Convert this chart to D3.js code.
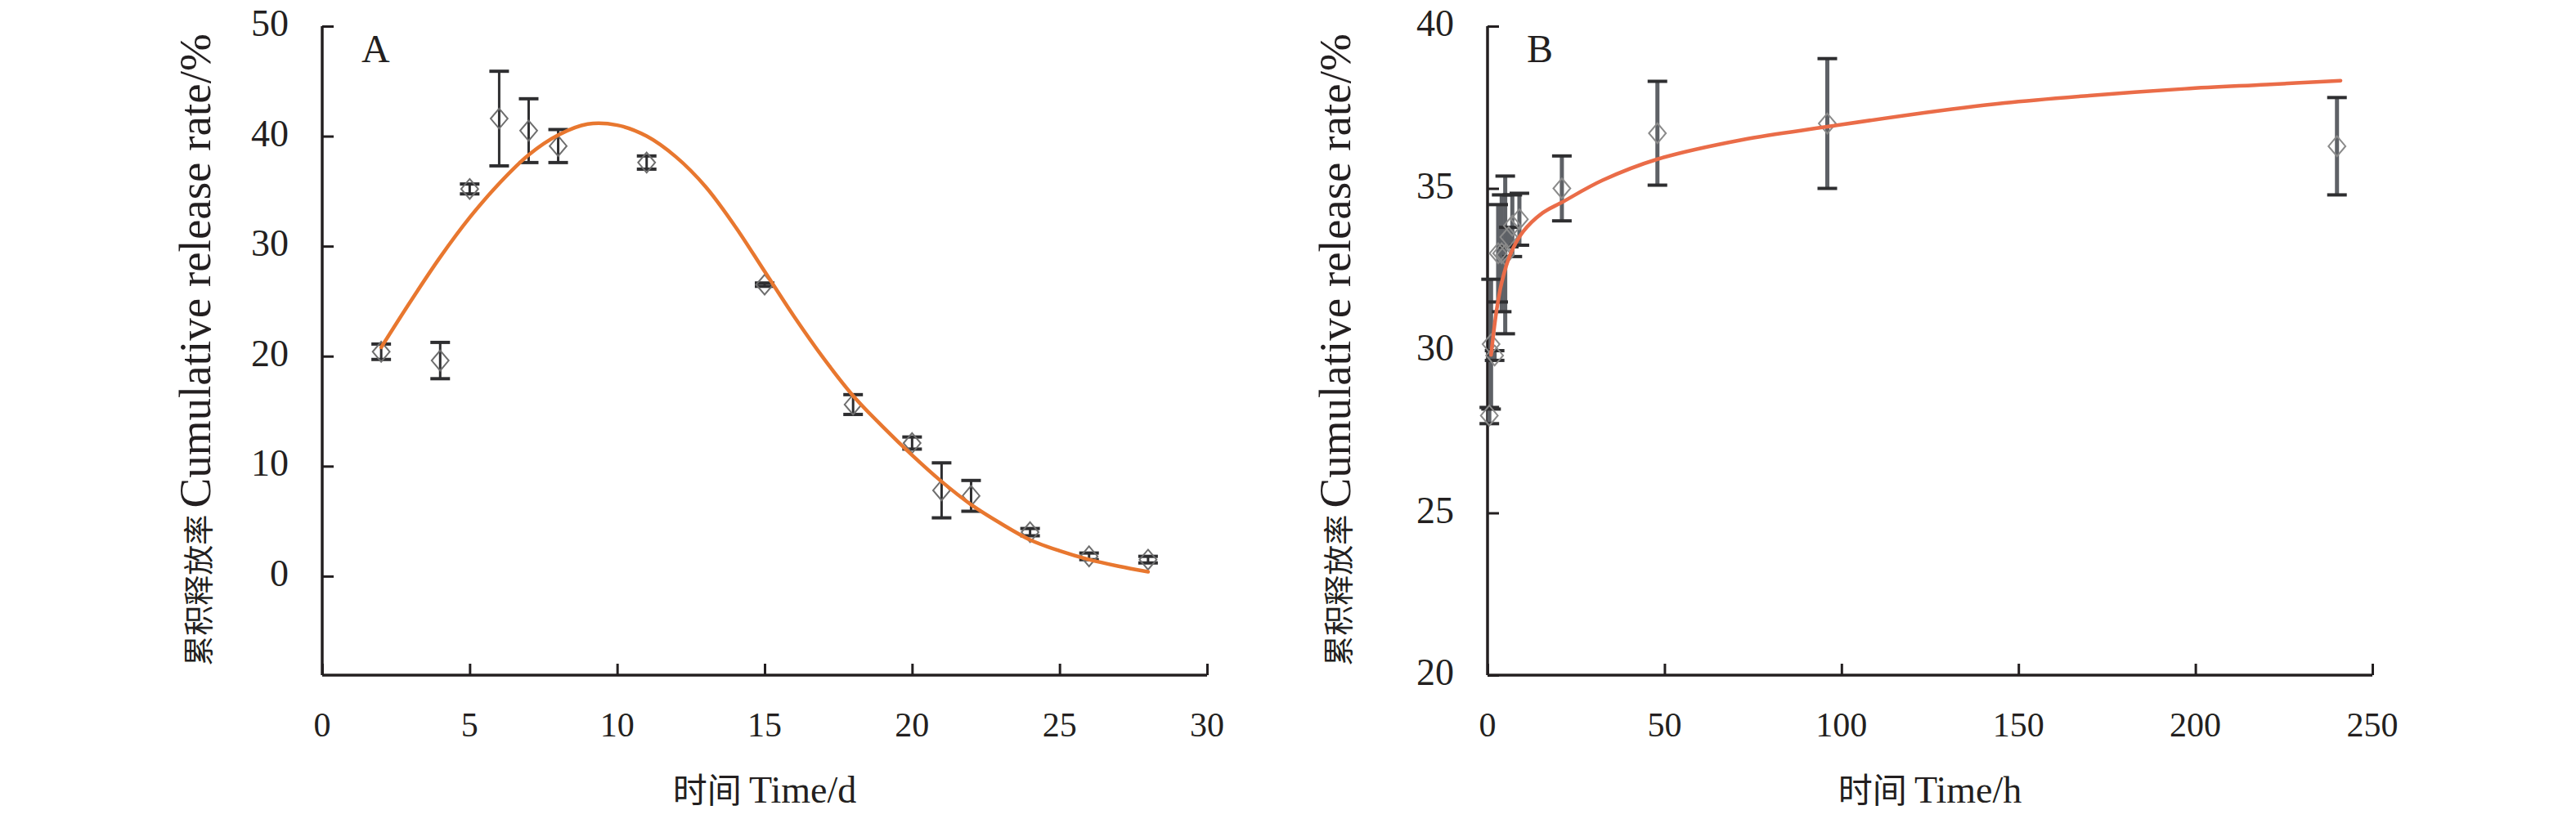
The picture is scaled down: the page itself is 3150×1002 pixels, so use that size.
<!DOCTYPE html>
<html>
<head>
<meta charset="utf-8">
<script src="https://cdn.jsdelivr.net/npm/d3@7"></script>
<style>
  body { margin: 0; background: #fff; }
  svg { display: block; }
  text { font-family: "Liberation Serif", "Times New Roman", serif; fill: #231f20; }
  .cjk { font-family: "Noto Sans CJK SC", sans-serif; }
</style>
</head>
<body>
<svg width="3150" height="1002"></svg>
<script>
// Panel A: release over days
const timeA = [2, 4, 5, 6, 7, 8, 11, 15, 18, 20, 21, 22, 24, 26, 28];
const releaseA = [20.4, 19.6, 35.2, 41.6, 40.5, 39.1, 37.6, 26.5, 15.6, 12.1, 7.8, 7.3, 4.0, 1.8, 1.5];
const errorA = [0.7, 1.65, 0.45, 4.3, 2.9, 1.5, 0.6, 0.15, 0.9, 0.55, 2.5, 1.4, 0.33, 0.3, 0.3];
const fitTimeA = [2, 3, 4, 5, 6, 7, 8, 9, 10, 11, 12, 13, 14, 15, 16, 17, 18, 19, 20, 21, 22, 23, 24, 25, 26, 27, 28];
const fitA = [20.8, 25.0, 29.0, 32.6, 35.7, 38.3, 40.1, 41.1, 41.0, 40.0, 38.1, 35.4, 31.8, 27.7, 23.6, 19.8, 16.4, 13.6, 11.0, 8.6, 6.5, 4.8, 3.3, 2.3, 1.5, 0.9, 0.4];
const xTicksA = [0, 5, 10, 15, 20, 25, 30];
const yTicksA = [0, 10, 20, 30, 40, 50];

// Panel B: release over hours
const timeB = [0.5, 1, 2, 3, 4, 5, 6, 7, 9, 21, 48, 96, 240];
const releaseB = [28.0, 30.2, 29.85, 33.0, 33.0, 32.95, 33.5, 33.85, 34.05, 35.0, 36.7, 37.0, 36.3];
const errorB = [0.25, 2.0, 0.15, 1.5, 1.8, 2.43, 0.3, 0.95, 0.8, 1.0, 1.6, 2.0, 1.5];
const fitTimeB = [1, 2.5, 4, 6.5, 10, 15.5, 21, 32.5, 48, 72, 96, 120, 146, 170, 197, 220, 241];
const fitB = [29.87, 31.2, 32.1, 32.98, 33.66, 34.24, 34.57, 35.25, 35.9, 36.5, 36.9, 37.28, 37.63, 37.86, 38.07, 38.2, 38.32];
const xTicksB = [0, 50, 100, 150, 200, 250];
const yTicksB = [20, 25, 30, 35, 40];

const svg = d3.select("svg");
svg.append("rect").attr("width", 3150).attr("height", 1002).attr("fill", "#fff");

// hollow diamond, a bit wider than d3's own
const diamond = {
  draw(ctx, size) {
    const h = Math.sqrt(size) / 2;
    const w = h * 0.85;
    ctx.moveTo(0, -h); ctx.lineTo(w, 0); ctx.lineTo(0, h); ctx.lineTo(-w, 0); ctx.closePath();
  }
};

function panel(opt) {
  const x = d3.scaleLinear().domain(opt.xDomain).range(opt.xRange);
  const y = d3.scaleLinear().domain(opt.yDomain).range([826, 32]);
  const g = svg.append("g");

  // axes, ticks pointing inward
  const xAxis = g.append("g").attr("transform", "translate(0,826)")
    .call(d3.axisTop(x).tickValues(opt.xTicks).tickSize(14).tickFormat(""));
  const yAxis = g.append("g").attr("transform", `translate(${opt.xRange[0]},0)`)
    .call(d3.axisRight(y).tickValues(opt.yTicks).tickSize(14).tickFormat(""));
  [xAxis, yAxis].forEach(a => {
    a.select(".domain").attr("stroke", "#231f20").attr("stroke-width", 3.5);
    a.selectAll(".tick line").attr("stroke", "#231f20").attr("stroke-width", 3);
  });
  // the domain paths have outer ticks; redraw plain lines instead
  xAxis.select(".domain").attr("d", `M${opt.xRange[0]},0H${opt.xRange[1]}`);
  yAxis.select(".domain").attr("d", `M0,${y(opt.yDomain[0])}V${y(opt.yDomain[1])}`);

  g.selectAll(".xl").data(opt.xTicks).enter().append("text")
    .attr("x", d => x(d)).attr("y", 901)
    .attr("text-anchor", "middle").attr("font-size", 42)
    .text(d => d);
  g.selectAll(".yl").data(opt.yTicks).enter().append("text")
    .attr("x", opt.xRange[0] - 41).attr("y", d => y(d) + 12)
    .attr("text-anchor", "end").attr("font-size", 46)
    .text(d => d);

  // panel letter
  g.append("text").attr("x", opt.xRange[0] + 48).attr("y", 76)
    .attr("font-size", 48).text(opt.letter);

  // axis titles
  const xt = g.append("text")
    .attr("x", (opt.xRange[0] + opt.xRange[1]) / 2).attr("y", 982)
    .attr("text-anchor", "middle").attr("font-size", 46);
  xt.append("tspan").attr("class", "cjk").attr("font-size", 42).text("时间 ");
  xt.append("tspan").text(opt.xTitle);

  const yt = g.append("text")
    .attr("transform", `translate(${opt.yTitleX},428) rotate(-90)`)
    .attr("text-anchor", "middle").attr("font-size", 55);
  yt.append("tspan").attr("class", "cjk").attr("font-size", 37).text("累积释放率 ");
  yt.append("tspan").text("Cumulative release rate/%");

  // error bars
  const pts = opt.time.map((t, i) => ({ t, v: opt.release[i], e: opt.error[i] }));
  const bars = g.append("g");
  bars.selectAll("line.v").data(pts).enter().append("line")
    .attr("x1", d => x(d.t)).attr("x2", d => x(d.t))
    .attr("y1", d => y(d.v + d.e)).attr("y2", d => y(d.v - d.e))
    .attr("stroke", opt.barColor).attr("stroke-width", opt.barWidth);
  ["top", "bottom"].forEach(side => {
    bars.selectAll("line." + side).data(pts).enter().append("line")
      .attr("x1", d => x(d.t) - 12).attr("x2", d => x(d.t) + 12)
      .attr("y1", d => y(side === "top" ? d.v + d.e : d.v - d.e))
      .attr("y2", d => y(side === "top" ? d.v + d.e : d.v - d.e))
      .attr("stroke", "#2e2e30").attr("stroke-width", 4);
  });

  // markers
  g.selectAll("path.pt").data(pts).enter().append("path")
    .attr("transform", d => `translate(${x(d.t)},${y(d.v)})`)
    .attr("d", d3.symbol().type(diamond).size(600))
    .attr("fill", "none").attr("stroke", opt.markColor).attr("stroke-width", 2);

  // fitted curve
  const line = d3.line().x(d => x(d[0])).y(d => y(d[1])).curve(d3.curveCatmullRom.alpha(0.5));
  g.append("path")
    .datum(opt.fitTime.map((t, i) => [t, opt.fit[i]]))
    .attr("d", line)
    .attr("fill", "none").attr("stroke", opt.curveColor).attr("stroke-width", 4.5)
    .attr("stroke-linecap", "round");
}

panel({
  letter: "A", xDomain: [0, 30], xRange: [394, 1476], yDomain: [-9, 50],
  xTicks: xTicksA, yTicks: yTicksA, xTitle: "Time/d", yTitleX: 257,
  time: timeA, release: releaseA, error: errorA, fitTime: fitTimeA, fit: fitA,
  barColor: "#2e2e30", barWidth: 3, markColor: "#6e6e6e", curveColor: "#e8772f"
});

panel({
  letter: "B", xDomain: [0, 250], xRange: [1819, 2901], yDomain: [20, 40],
  xTicks: xTicksB, yTicks: yTicksB, xTitle: "Time/h", yTitleX: 1651,
  time: timeB, release: releaseB, error: errorB, fitTime: fitTimeB, fit: fitB,
  barColor: "#5e6166", barWidth: 5, markColor: "#8a8a8a", curveColor: "#ea6c48"
});
</script>
</body>
</html>
